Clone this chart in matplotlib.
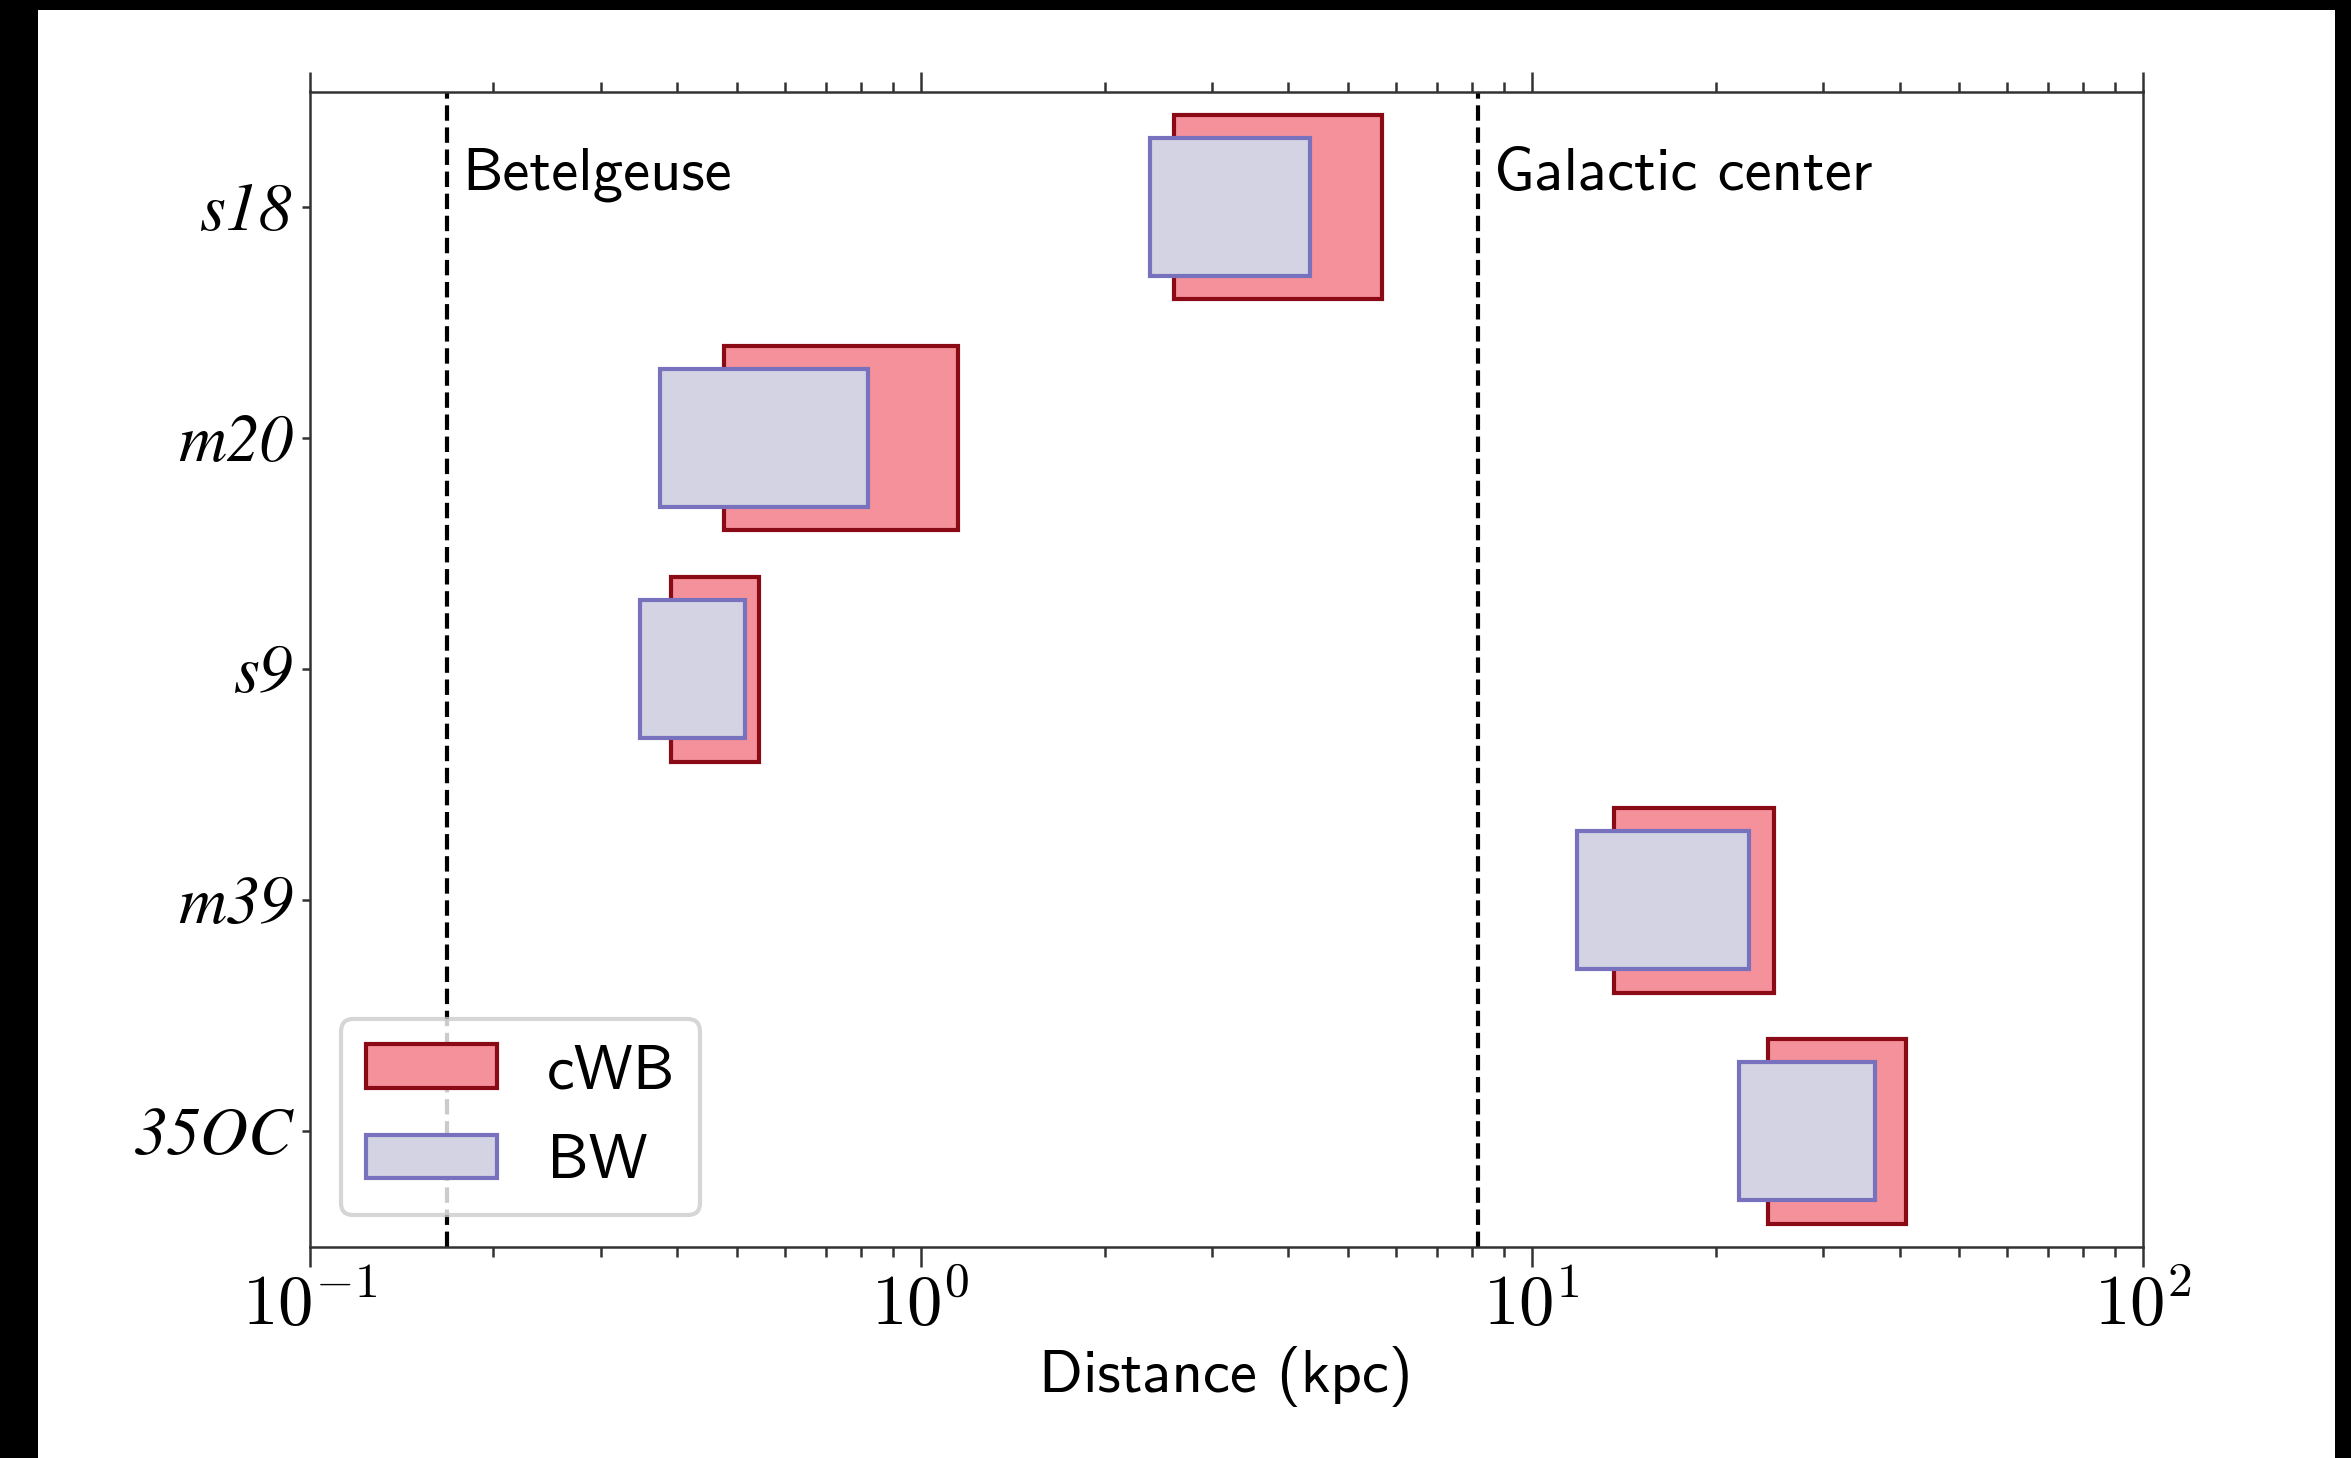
import matplotlib
matplotlib.use('Agg')
import matplotlib.pyplot as plt
from matplotlib.patches import Rectangle
from matplotlib.ticker import NullFormatter
import numpy as np

# ---------------- data ----------------
models = ['s18', 'm20', 's9', 'm39', '35OC']
cwb_low = [2.60, 0.477, 0.391, 13.65, 24.36]
cwb_high = [5.69, 1.153, 0.5435, 24.97, 40.97]
bw_low = [2.375, 0.375, 0.348, 11.87, 21.88]
bw_high = [4.33, 0.821, 0.517, 22.72, 36.4]
series_labels = ['cWB', 'BW']
ref_names = ['Betelgeuse', 'Galactic center']
ref_dist = [0.168, 8.18]
xticks = [0.1, 1, 10, 100]
xtick_labels = [r'$10^{-1}$', r'$10^{0}$', r'$10^{1}$', r'$10^{2}$']

# ---------------- style ----------------
plt.rcParams['mathtext.fontset'] = 'cm'
W, H, DPI = 2351, 1458, 300
fig = plt.figure(figsize=(W / DPI, H / DPI), dpi=DPI)
fig.patch.set_facecolor('black')
fig.add_artist(Rectangle((38 / W, 0), (2335 - 38) / W, (H - 9.5) / H,
                         transform=fig.transFigure, facecolor='white',
                         edgecolor='none', zorder=-10))

ax_l, ax_r, ax_t, ax_b = 309.5, 2142.7, 91.5, 1246.7
ax = fig.add_axes([ax_l / W, 1 - ax_b / H, (ax_r - ax_l) / W, (ax_b - ax_t) / H])

y = np.arange(len(models))
cwb_w = np.array(cwb_high) - np.array(cwb_low)
bw_w = np.array(bw_high) - np.array(bw_low)
ax.barh(y, cwb_w, left=cwb_low, height=0.8, color='#F5919A',
        edgecolor='#8A0A16', linewidth=1.0, label=series_labels[0], zorder=2)
ax.barh(y, bw_w, left=bw_low, height=0.6, color='#D3D3E3',
        edgecolor='#7872BE', linewidth=1.0, label=series_labels[1], zorder=3)

for name, d in zip(ref_names, ref_dist):
    ax.axvline(d, color='black', ls='--', lw=1.0, zorder=1)
    ax.text(d * 1.06, -0.075, name, fontfamily='cmss10', fontsize=14.6,
            va='baseline', ha='left')

ax.set_xscale('log')
ax.set_xlim(0.1, 100)
ax.set_ylim(len(models) - 0.5, -0.5)
ax.set_xticks(xticks)
ax.set_xticklabels(xtick_labels, fontsize=17)
ax.xaxis.set_minor_formatter(NullFormatter())
ax.set_yticks(y)
ax.set_yticklabels(models, fontfamily='STIXGeneral', fontstyle='italic', fontsize=16)

ax.tick_params(axis='x', which='both', top=True, bottom=True, direction='out',
               color='#333333')
ax.tick_params(axis='x', which='major', length=4.8, width=0.6, pad=1)
ax.tick_params(axis='x', which='minor', length=2.4, width=0.6)
ax.tick_params(axis='y', which='major', length=2, width=0.6, pad=2,
               left=True, right=False, color='#333333')
for sp in ax.spines.values():
    sp.set_linewidth(0.6)
    sp.set_color('#333333')

ax.set_xlabel('Distance (kpc)', fontfamily='cmss10', fontsize=14.6, labelpad=1.5)
ax.legend(loc='lower left', prop={'family': 'cmss10', 'size': 15},
          handlelength=2.1, labelspacing=0.55)

fig.savefig('out.png', dpi=DPI, facecolor=fig.get_facecolor())
